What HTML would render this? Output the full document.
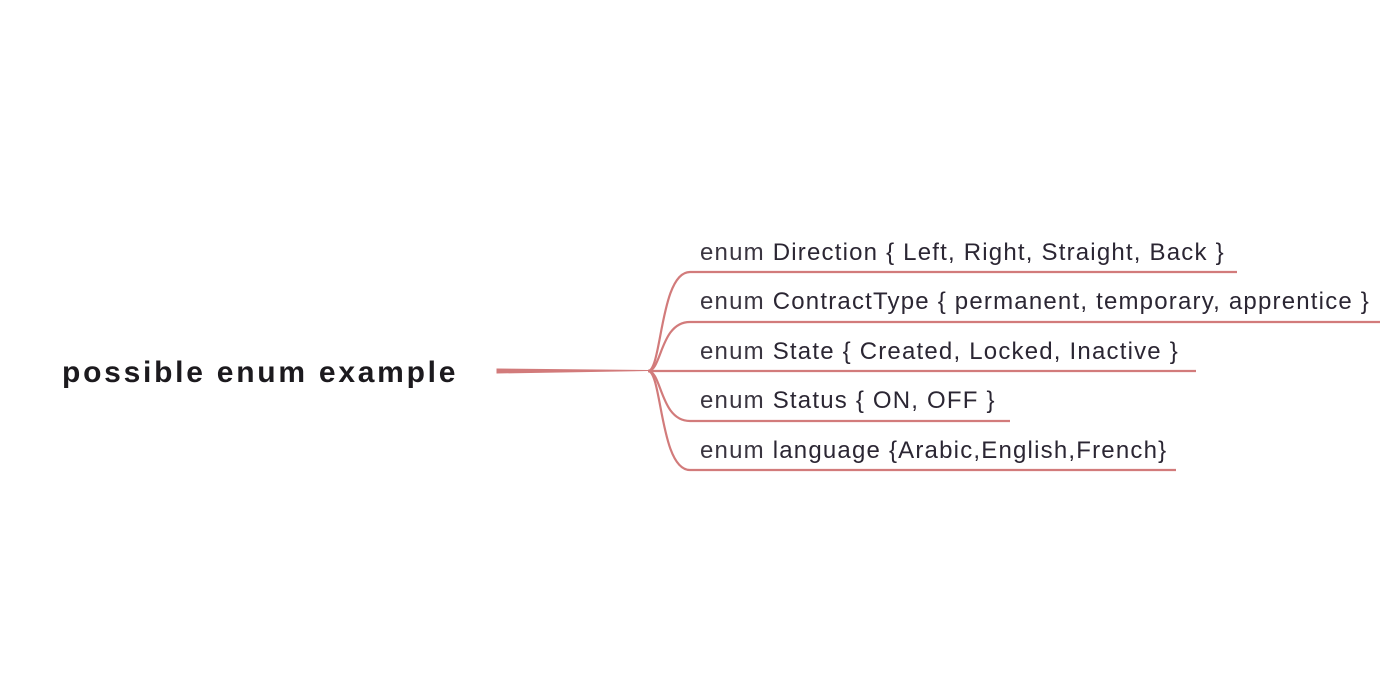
<!DOCTYPE html>
<html><head><meta charset="utf-8"><style>
html,body{margin:0;padding:0;background:#fff;}
body{width:1400px;height:700px;position:relative;overflow:hidden;font-family:"Liberation Sans",sans-serif;}
.t{position:absolute;left:700px;font-size:24px;letter-spacing:1.2px;color:#2b2633;white-space:nowrap;line-height:1;}
.t span{color:#3a3540;}
</style></head><body>
<svg width="1400" height="700" style="position:absolute;left:0;top:0">
<g fill="none" stroke="#d27b7b" stroke-width="2.2">
<path d="M497 369 L648 370.5 L497 373 Z" fill="#d27b7b" stroke-width="1"/>
<path d="M648 371 C662 371 660 272 690 272 L1237 272"/>
<path d="M648 371 C662 371 660 322 690 322 L1380 322"/>
<path d="M648 371 L1196 371"/>
<path d="M648 371 C662 371 660 421 690 421 L1010 421"/>
<path d="M648 371 C662 371 660 470 690 470 L1176 470"/>
</g>
</svg>
<div style="position:absolute;left:62px;top:356px;font-size:30px;font-weight:bold;color:#1c1a1e;letter-spacing:2.75px;white-space:nowrap;">possible enum example</div>
<div class="t" style="top:241px"><span>enum</span> Direction { Left, Right, Straight, Back }</div>
<div class="t" style="top:290px"><span>enum</span> ContractType { permanent, temporary, apprentice }</div>
<div class="t" style="top:340px"><span>enum</span> State { Created, Locked, Inactive }</div>
<div class="t" style="top:389px"><span>enum</span> Status { ON, OFF }</div>
<div class="t" style="top:439px"><span>enum</span> language {Arabic,English,French}</div>
</body></html>
